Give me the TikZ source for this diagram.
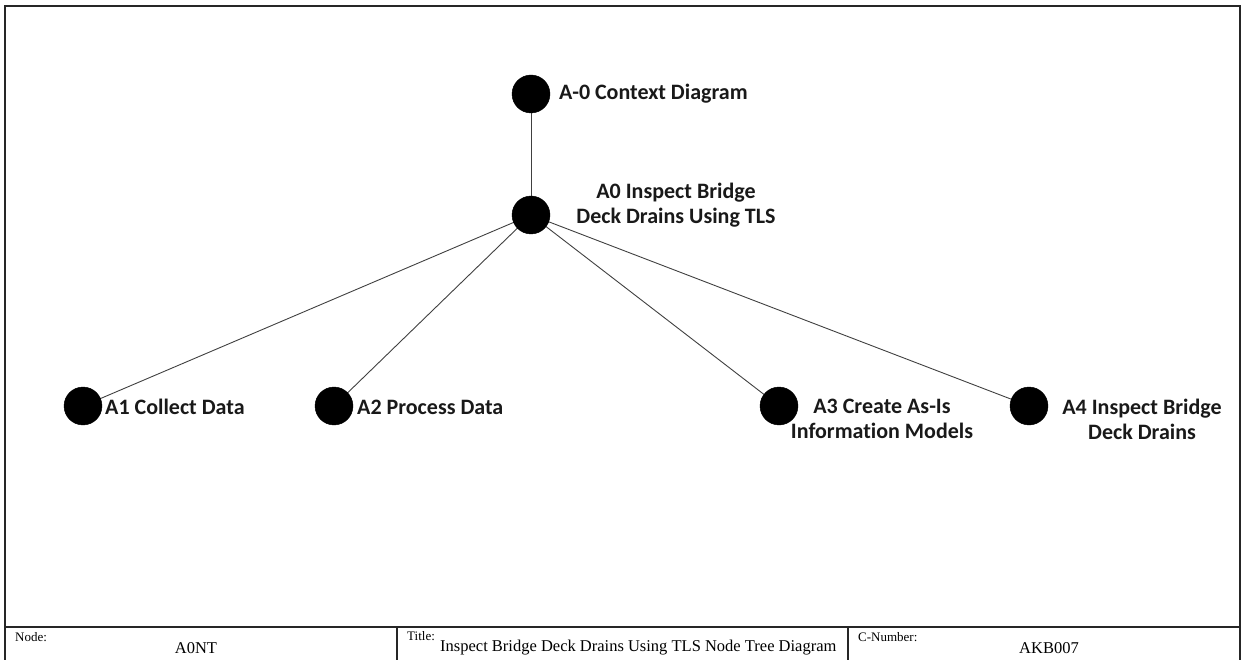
\documentclass[tikz,border=0pt]{standalone}
\usepackage{fontspec}
\setmainfont{Liberation Serif}
\newfontfamily\labelfont[Ligatures=NoCommon]{Carlito}
\begin{document}
\begin{tikzpicture}[x=1pt,y=-1pt,
  dot/.style={circle,fill=black,draw=black,minimum size=38pt,inner sep=0pt},
  lbl/.style={font=\labelfont\bfseries\fontsize{22}{25}\selectfont,inner sep=0pt,text=black!90},
  link/.style={draw=black!75,line width=0.9pt},
  frame/.style={draw=black!85,line width=1.4pt},
  tag/.style={font=\fontsize{13}{15}\selectfont,inner sep=0pt,anchor=west},
  val/.style={font=\fontsize{16.5}{20}\selectfont,inner sep=0pt}]
\useasboundingbox (0,0) rectangle (1242,660);
% sheet frame and footer
\draw[frame] (5,6) rectangle (1240,664);
\draw[frame] (5,627) -- (1240,627);
\draw[frame] (397,627) -- (397,664);
\draw[frame] (848,627) -- (848,664);
\node[tag] (nodetag) at (15,637) {Node:};
\node[val] (nodeval) at (196,648) {A0NT};
\node[tag] (titletag) at (407,636) {Title:};
\node[val,anchor=west] (titleval) at (440,648) {Inspect Bridge Deck Drains Using TLS Node Tree Diagram};
\node[tag] (cnumtag) at (858,637) {C-Number:};
\node[val] (cnumval) at (1049,648) {AKB007};
% node tree
\coordinate (pctx) at (531,94);
\coordinate (p0) at (531,215);
\coordinate (p1) at (83,406);
\coordinate (p2) at (334,406);
\coordinate (p3) at (779,406);
\coordinate (p4) at (1029,406);
\draw[link] (pctx) -- (p0);
\draw[link] (p0) -- (p1);
\draw[link] (p0) -- (p2);
\draw[link] (p0) -- (p3);
\draw[link] (p0) -- (p4);
\node[dot] (nctx) at (pctx) {};
\node[dot] (n0) at (p0) {};
\node[dot] (n1) at (p1) {};
\node[dot] (n2) at (p2) {};
\node[dot] (n3) at (p3) {};
\node[dot] (n4) at (p4) {};
\node[lbl,anchor=west] (lctx) at (559,94) {A-0 Context Diagram};
\node[lbl,align=center] (l0) at (676,205) {A0 Inspect Bridge\\Deck Drains Using TLS};
\node[lbl,anchor=west] (l1) at (105,407) {A1 Collect Data};
\node[lbl,anchor=west] (l2) at (357,407) {A2 Process Data};
\node[lbl,align=center] (l3) at (882,419) {A3 Create As-Is\\Information Models};
\node[lbl,align=center] (l4) at (1142,419) {A4 Inspect Bridge\\Deck Drains};
\end{tikzpicture}
\end{document}
